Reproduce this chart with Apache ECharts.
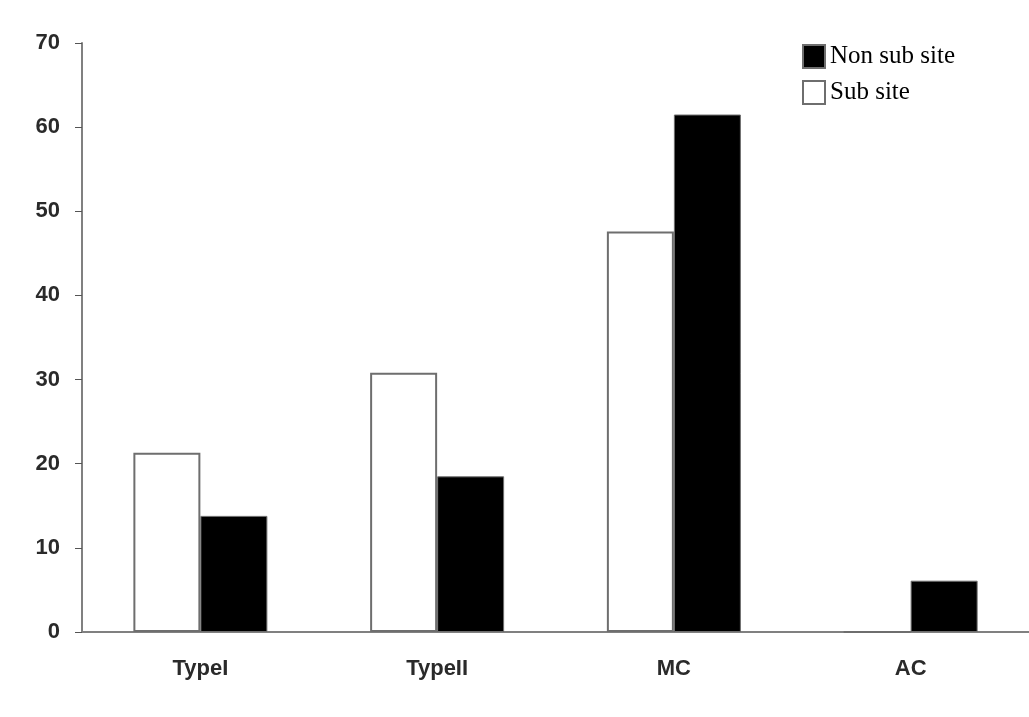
<!DOCTYPE html>
<html>
<head>
	<meta charset="utf-8">
	<title>Sub site vs non sub site</title>
</head>
<body style="margin:0;background:#fff;">
<script type="text/javascript" src="https://cdn.jsdelivr.net/npm/echarts@6/dist/echarts.min.js"></script>
<div id="container" style="width: 1029px;height: 717px;"></div>
<script type="text/javascript">
    var categories = ['TypeI', 'TypeII', 'MC', 'AC'];
    var subSite = [21.3, 30.8, 47.6, 0];
    var nonSubSite = [13.8, 18.5, 61.5, 6.1];
    var yTicks = [0, 10, 20, 30, 40, 50, 60, 70];

    var myChart = echarts.init(document.getElementById('container'));
    var option = {
        backgroundColor: '#fff',
        animation: false,
        legend: {
            data: ['Non sub site', 'Sub site'],
            orient: 'vertical',
            left: 797,
            top: 39,
            icon: 'rect',
            itemWidth: 22,
            itemHeight: 23,
            itemGap: 11,
            textStyle: {
                fontFamily: 'Liberation Serif',
                fontSize: 25,
                color: '#000',
                padding: [0, 0, 0, 0]
            }
        },
        grid: {
            left: 82,
            top: 43,
            width: 950,
            bottom: 85
        },
        xAxis: {
            type: 'category',
            data: categories,
            axisLine: { lineStyle: { color: '#808080', width: 2 } },
            axisTick: { length: 6, lineStyle: { color: '#555', width: 1 } },
            axisLabel: {
                margin: 26,
                fontFamily: 'Liberation Sans',
                fontWeight: 'bold',
                fontSize: 22,
                color: '#2a2a2a'
            }
        },
        yAxis: {
            type: 'value',
            min: 0,
            max: 70,
            interval: 10,
            axisLine: { show: true, lineStyle: { color: '#808080', width: 2 } },
            axisTick: { show: true, length: 7, lineStyle: { color: '#555', width: 1 } },
            splitLine: { show: false },
            axisLabel: {
                margin: 22,
                fontFamily: 'Liberation Sans',
                fontWeight: 'bold',
                fontSize: 22,
                color: '#2a2a2a',
                formatter: function (v) { return yTicks.indexOf(v) >= 0 ? String(v) : ''; }
            }
        },
        series: [
            {
                name: 'Sub site',
                type: 'bar',
                data: subSite,
                barWidth: 67,
                barGap: '0%',
                itemStyle: { color: '#fff', borderColor: '#6e6e6e', borderWidth: 2 }
            },
            {
                name: 'Non sub site',
                type: 'bar',
                data: nonSubSite,
                barWidth: 67,
                barGap: '0%',
                itemStyle: { color: '#000', borderColor: '#6e6e6e', borderWidth: 1 }
            }
        ]
    };
    myChart.setOption(option);
    window.addEventListener('resize', myChart.resize);
</script>
</body>
</html>
